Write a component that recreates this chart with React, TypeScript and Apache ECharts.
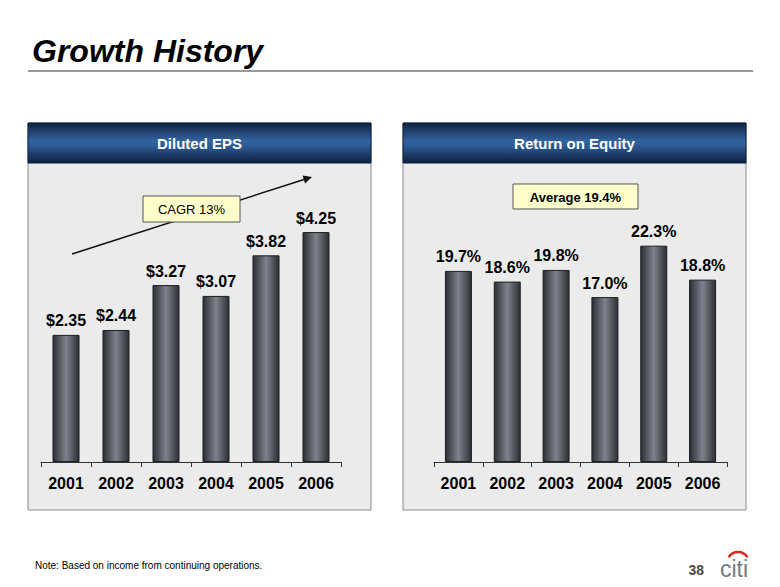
import React, { useEffect, useRef } from "react";
import * as echarts from "echarts";

const years = ["2001", "2002", "2003", "2004", "2005", "2006"];
const epsValues = [2.35, 2.44, 3.27, 3.07, 3.82, 4.25];
const roeValues = [19.7, 18.6, 19.8, 17.0, 22.3, 18.8];
const title = "Growth History";
const leftHeader = "Diluted EPS";
const rightHeader = "Return on Equity";
const cagrText = "CAGR 13%";
const avgText = "Average 19.4%";
const noteText = "Note: Based on income from continuing operations.";
const pageNum = "38";

const FONT = "Arial, 'Liberation Sans', Helvetica, sans-serif";

const barStyle = {
  color: new echarts.graphic.LinearGradient(0, 0, 1, 0, [
    { offset: 0, color: "#2c2f35" },
    { offset: 0.5, color: "#7e828c" },
    { offset: 1, color: "#2c2f35" },
  ]),
  borderColor: "#1e1f22",
  borderWidth: 1,
};

const headerFill = new echarts.graphic.LinearGradient(0, 0, 0, 1, [
  { offset: 0, color: "#0e2242" },
  { offset: 0.45, color: "#3364a0" },
  { offset: 0.6, color: "#2c5890" },
  { offset: 1, color: "#0c1f3c" },
]);

function panel(x: number, w: number, label: string) {
  return [
    {
      type: "rect",
      shape: { x: x, y: 123, width: w, height: 387 },
      style: { fill: "#ebebeb", stroke: "#8a8a8a", lineWidth: 1 },
      z: 0,
    },
    {
      type: "rect",
      shape: { x: x, y: 123, width: w, height: 40 },
      style: { fill: headerFill, stroke: "#0c1f3c", lineWidth: 1 },
      z: 1,
    },
    {
      type: "text",
      x: x + w / 2,
      y: 143,
      style: {
        text: label,
        fill: "#ffffff",
        font: `bold 15px ${FONT}`,
        align: "center",
        verticalAlign: "middle",
      },
      z: 2,
    },
  ];
}

export default function App() {
  const ref = useRef<HTMLDivElement>(null);
  useEffect(() => {
    if (!ref.current) return;
    const chart = echarts.init(ref.current, undefined, { renderer: "svg" });
    const axisLabelStyle = {
      color: "#000",
      fontWeight: "bold" as const,
      fontSize: 16,
      fontFamily: FONT,
      margin: 13,
    };
    const labelStyle = {
      show: true,
      position: "top" as const,
      distance: 6,
      color: "#000",
      fontWeight: "bold" as const,
      fontSize: 16,
      fontFamily: FONT,
    };
    const xAxisCommon = {
      type: "category",
      data: years,
      z: 10,
      axisLine: { show: true, lineStyle: { color: "#333", width: 1 } },
      axisTick: { show: true, length: 5, interval: 0, lineStyle: { color: "#333", width: 1 } },
      axisLabel: axisLabelStyle,
    };
    chart.setOption({
      animation: false,
      backgroundColor: "#ffffff",
      grid: [
        { left: 41, width: 300, top: 191.5, bottom: 125 },
        { left: 434, width: 293, top: 219.5, bottom: 125 },
      ],
      xAxis: [
        { ...xAxisCommon, gridIndex: 0 },
        { ...xAxisCommon, gridIndex: 1 },
      ],
      yAxis: [
        { type: "value", gridIndex: 0, min: 0, max: 5, show: false, splitLine: { show: false } },
        { type: "value", gridIndex: 1, min: 0, max: 25, show: false, splitLine: { show: false } },
      ],
      series: [
        {
          type: "bar",
          xAxisIndex: 0,
          yAxisIndex: 0,
          data: epsValues,
          barWidth: 27,
          itemStyle: barStyle,
          label: { ...labelStyle, formatter: (p: any) => "$" + p.value.toFixed(2) },
          z: 3,
        },
        {
          type: "bar",
          xAxisIndex: 1,
          yAxisIndex: 1,
          data: roeValues,
          barWidth: 27,
          itemStyle: barStyle,
          label: { ...labelStyle, formatter: (p: any) => p.value.toFixed(1) + "%" },
          z: 3,
        },
      ],
      graphic: [
        {
          type: "text",
          x: 32,
          y: 51,
          style: {
            text: title,
            fill: "#000",
            font: `italic bold 32px ${FONT}`,
            verticalAlign: "middle",
          },
        },
        {
          type: "line",
          shape: { x1: 28, y1: 71, x2: 753, y2: 71 },
          style: { stroke: "#9a9a9a", lineWidth: 2 },
        },
        ...panel(28, 343, leftHeader),
        ...panel(403, 343, rightHeader),
        {
          type: "line",
          shape: { x1: 72, y1: 254, x2: 304, y2: 179.5 },
          style: { stroke: "#111", lineWidth: 1.5 },
          z: 5,
        },
        {
          type: "polygon",
          shape: { points: [[312, 177], [302.5, 175.5], [305, 183.5]] },
          style: { fill: "#111" },
          z: 5,
        },
        {
          type: "rect",
          shape: { x: 143, y: 196, width: 97, height: 26 },
          style: { fill: "#ffffcc", stroke: "#555", lineWidth: 1 },
          z: 6,
        },
        {
          type: "text",
          x: 191.5,
          y: 209.5,
          style: {
            text: cagrText,
            fill: "#000",
            font: `13px ${FONT}`,
            align: "center",
            verticalAlign: "middle",
          },
          z: 7,
        },
        {
          type: "rect",
          shape: { x: 513, y: 184, width: 125, height: 25 },
          style: { fill: "#ffffcc", stroke: "#555", lineWidth: 1 },
          z: 6,
        },
        {
          type: "text",
          x: 575.5,
          y: 197,
          style: {
            text: avgText,
            fill: "#000",
            font: `bold 13px ${FONT}`,
            align: "center",
            verticalAlign: "middle",
          },
          z: 7,
        },
        {
          type: "text",
          x: 35,
          y: 565,
          style: {
            text: noteText,
            fill: "#000",
            font: `10px ${FONT}`,
            verticalAlign: "middle",
          },
        },
        {
          type: "text",
          x: 704,
          y: 570,
          style: {
            text: pageNum,
            fill: "#4a4a4a",
            font: `bold 14px ${FONT}`,
            align: "right",
            verticalAlign: "middle",
          },
        },
        {
          type: "text",
          x: 720,
          y: 569,
          style: {
            text: "citi",
            fill: "#707c8c",
            font: `23px ${FONT}`,
            verticalAlign: "middle",
          },
        },
        {
          type: "arc",
          shape: { cx: 738, cy: 563, r: 11, startAngle: -Math.PI + 0.55, endAngle: -0.55, clockwise: true },
          style: { stroke: "#d52b1e", lineWidth: 2.5, fill: "none" },
        },
      ],
    });
    return () => chart.dispose();
  }, []);
  return (
    <div
      ref={ref}
      style={{ position: "absolute", left: 0, top: 0, width: 780, height: 587 }}
    />
  );
}
